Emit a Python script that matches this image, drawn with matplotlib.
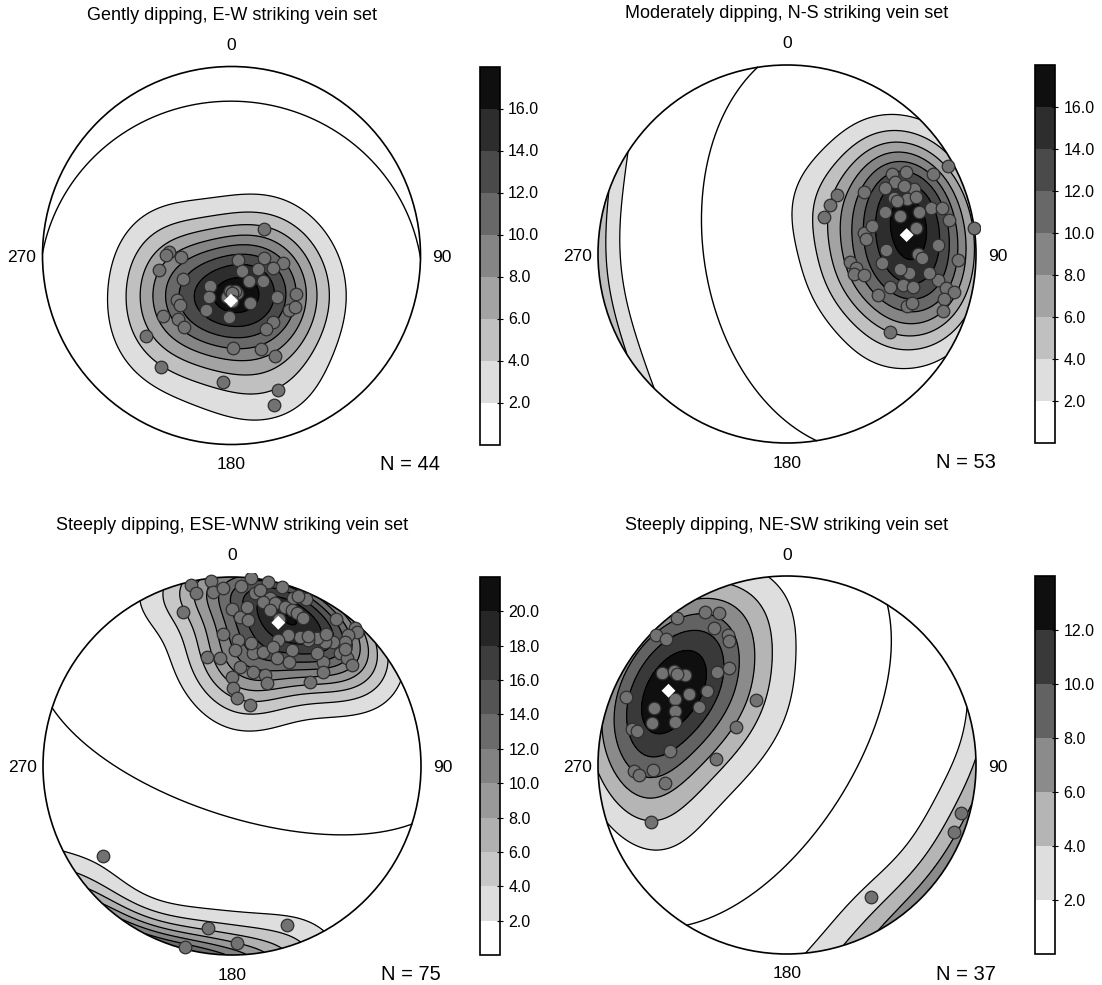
import numpy as np
import matplotlib
matplotlib.use("Agg")
import matplotlib.pyplot as plt
from matplotlib.patches import Circle

plt.rcParams['font.family'] = ['Liberation Sans', 'DejaVu Sans']

W, H = 1102, 985

titles = ['Gently dipping, E-W striking vein set',
          'Moderately dipping, N-S striking vein set',
          'Steeply dipping, ESE-WNW striking vein set',
          'Steeply dipping, NE-SW striking vein set']

# poles to veins (east, north; net radius = 1)
east1 = [0.172, -0.331, -0.348, -0.269, -0.382, -0.255, 0.033, 0.172, 0.271, 0.221,
         0.139, 0.057, 0.093, 0.168, -0.114, -0.121, -0.290, -0.272, 0.242, 0.341,
         0.098, -0.137, -0.015, -0.364, -0.281, -0.251, 0.306, 0.334, 0.221, 0.181,
         -0.452, 0.006, 0.156, 0.230, -0.373, -0.047, 0.244, 0.226, -0.025, -0.010,
         0.030, 0.020, 0.000, 0.000]
north1 = [0.139, 0.017, 0.003, -0.008, -0.077, -0.124, -0.024, -0.015, -0.041, -0.068,
          -0.073, -0.084, -0.135, -0.133, -0.161, -0.221, -0.235, -0.262, -0.218, -0.205,
          -0.253, -0.288, -0.327, -0.320, -0.338, -0.377, -0.288, -0.271, -0.350, -0.389,
          -0.426, -0.491, -0.496, -0.532, -0.588, -0.670, -0.712, -0.791, -0.218, -0.190,
          -0.200, -0.190, -0.200, -0.240]

east2 = [0.850, 0.774, 0.630, 0.557, 0.571, 0.519, 0.630, 0.674, 0.568, 0.633,
         0.409, 0.263, 0.228, 0.197, 0.762, 0.819, 0.859, 0.989, 0.683, 0.409,
         0.418, 0.524, 0.695, 0.716, 0.906, 0.333, 0.365, 0.354, 0.409, 0.647,
         0.545, 0.615, 0.668, 0.797, 0.841, 0.884, 0.480, 0.832, 0.637, 0.663,
         0.824, 0.545, 0.520, 0.600, 0.500, 0.580, 0.700, 0.750, 0.450, 0.680,
         0.620, 0.800, 0.600]
north2 = [0.466, 0.422, 0.432, 0.422, 0.383, 0.351, 0.356, 0.342, 0.295, 0.289,
          0.330, 0.312, 0.259, 0.197, 0.242, 0.242, 0.180, 0.136, 0.136, 0.110,
          0.079, 0.021, -0.002, -0.023, -0.032, -0.041, -0.072, -0.107, -0.111, -0.102,
          -0.173, -0.164, -0.173, -0.138, -0.181, -0.199, -0.217, -0.240, -0.275, -0.258,
          -0.300, -0.414, 0.220, 0.200, -0.050, 0.280, 0.220, -0.100, 0.150, 0.300,
          0.360, 0.050, -0.080]

east3 = [-0.219, -0.190, -0.113, -0.102, -0.049, 0.099, 0.189, 0.263, 0.122, 0.201,
         0.324, 0.390, -0.002, 0.042, 0.081, 0.086, 0.166, 0.228, 0.201, 0.280,
         0.316, 0.342, 0.374, -0.258, 0.651, 0.660, 0.615, 0.598, 0.536, 0.492,
         0.448, 0.404, 0.360, 0.298, 0.245, 0.571, 0.607, 0.633, 0.483, 0.483,
         0.413, 0.033, 0.016, 0.113, 0.166, 0.219, 0.316, 0.236, -0.134, -0.063,
         0.042, 0.113, -0.002, 0.175, 0.183, 0.007, 0.025, 0.095,
         -0.681, -0.125, 0.289, 0.025, -0.249,
         0.050, 0.150, 0.350, 0.550, 0.600, 0.450, 0.300, 0.100, -0.050, 0.250,
         0.400, 0.500]
north3 = [0.958, 0.914, 0.979, 0.922, 0.940, 0.993, 0.975, 0.949, 0.914, 0.887,
          0.887, 0.882, 0.829, 0.790, 0.840, 0.772, 0.869, 0.861, 0.825, 0.843,
          0.825, 0.808, 0.781, 0.816, 0.729, 0.711, 0.693, 0.658, 0.658, 0.658,
          0.676, 0.667, 0.684, 0.693, 0.667, 0.596, 0.570, 0.534, 0.552, 0.499,
          0.446, 0.667, 0.614, 0.596, 0.605, 0.631, 0.614, 0.570, 0.575, 0.570,
          0.526, 0.499, 0.473, 0.481, 0.437, 0.411, 0.358, 0.323,
          -0.476, -0.856, -0.841, -0.935, -0.956,
          0.950, 0.930, 0.900, 0.780, 0.620, 0.600, 0.550, 0.650, 0.700, 0.780,
          0.690, 0.700]

east4 = [-0.581, -0.433, -0.360, -0.387, -0.692, -0.642, -0.314, -0.305, -0.660, -0.539,
         -0.369, -0.305, -0.421, -0.520, -0.852, -0.590, -0.465, -0.166, -0.705, -0.594,
         -0.714, -0.594, -0.821, -0.793, -0.268, -0.618, -0.378, -0.812, -0.784, -0.710,
         -0.646, -0.720, 0.918, 0.881, 0.442, -0.600, -0.580]
north4 = [0.776, 0.811, 0.802, 0.723, 0.688, 0.667, 0.688, 0.658, 0.485, 0.476,
          0.494, 0.512, 0.393, 0.375, 0.361, 0.349, 0.309, 0.344, 0.300, 0.287,
          0.221, 0.226, 0.189, 0.182, 0.203, 0.074, 0.030, -0.030, -0.053, -0.026,
          -0.097, -0.303, -0.256, -0.353, -0.697, 0.500, 0.480]

# mean pole of each set (white diamond)
mean_east = [-0.003, 0.633, 0.245, -0.627]
mean_north = [-0.239, 0.100, 0.758, 0.393]

east = [east1, east2, east3, east4]
north = [north1, north2, north3, north4]

# layout in pixels: net centres and radius
centers = [(231.5, 255.5), (787, 254), (232, 766), (787, 765)]
R = 189


def to_xyz(e, n):
    """equal-area net position -> unit vector (east, north, down)"""
    e = np.asarray(e, float) * np.sqrt(2)
    n = np.asarray(n, float) * np.sqrt(2)
    r2 = np.minimum(e**2 + n**2, 2.0)
    s = np.sqrt(1 - r2 / 4)
    return np.stack([e * s, n * s, 1 - r2 / 2], axis=-1)


def to_net(v):
    x, y, z = v[..., 0], v[..., 1], v[..., 2]
    h = np.hypot(x, y)
    h = np.where(h == 0, 1, h)
    r = np.sqrt(np.clip(1 - z, 0, 1))
    return r * x / h, r * y / h


def kamb(e, n, ge, gn, sigma=3):
    """exponential Kamb density in standard deviations"""
    data = to_xyz(e, n)
    grid = to_xyz(ge.ravel(), gn.ravel())
    cos = np.abs(grid @ data.T)
    num = len(e)
    f = 2 * (1 + num / sigma**2)
    count = np.exp(f * (cos - 1)).sum(axis=1)
    units = np.sqrt(num * (f / 2 - 1) / f**2)
    return (count / units).reshape(ge.shape)


def great_circle(pe, pn):
    p = to_xyz([pe], [pn])[0]
    a = np.array([-p[1], p[0], 0.0])
    a = a / np.linalg.norm(a)
    b = np.cross(p, a)
    b = b / np.linalg.norm(b)
    if b[2] < 0:
        b = -b
    t = np.linspace(0, np.pi, 361)
    v = np.outer(np.cos(t), a) + np.outer(np.sin(t), b)
    return to_net(v)


def fxy(x, y):
    return x / W, 1 - y / H


fig = plt.figure(figsize=(W / 100, H / 100), dpi=100)

pad = 1.02
g = np.linspace(-pad, pad, 301)
ge, gn = np.meshgrid(g, g)
gr = np.hypot(ge, gn)
k = np.where(gr > 1, 1 / np.maximum(gr, 1e-9), 1)

for i in range(4):
    e = np.array(east[i])
    n = np.array(north[i])
    cx, cy = centers[i]

    ax = fig.add_axes([(cx - pad * R) / W, 1 - (cy + pad * R) / H,
                       2 * pad * R / W, 2 * pad * R / H])
    ax.set_xlim(-pad, pad)
    ax.set_ylim(-pad, pad)
    ax.axis('off')

    dens = kamb(e, n, ge * k, gn * k)
    dmax = dens.max()
    levels = np.append(np.arange(0, dmax, 2), dmax)
    nb = len(levels) - 1
    cols = ['white'] + [str(c) for c in np.linspace(0.87, 0.06, nb - 1)]

    clip = Circle((0, 0), 1, transform=ax.transData)
    cs = ax.contourf(ge, gn, dens, levels=levels, colors=cols)
    cs.set_clip_path(clip)
    cl = ax.contour(ge, gn, dens, levels=levels[1:-1], colors='black', linewidths=0.9)
    cl.set_clip_path(clip)

    gx, gy = great_circle(mean_east[i], mean_north[i])
    ax.plot(gx, gy, color='black', lw=1.0, zorder=4)
    ax.add_patch(Circle((0, 0), 1, fill=False, ec='black', lw=1.2, zorder=5))

    ax.scatter(e, n, s=82, c='#727272', edgecolors='#2e2e2e', linewidths=0.9, zorder=6)
    ax.scatter([mean_east[i]], [mean_north[i]], marker='D', s=50, c='white',
               edgecolors='none', zorder=7)

    # colourbar
    cax = fig.add_axes([(cx + 248) / W, 1 - (cy + R) / H, 20 / W, 2 * R / H])
    cb = fig.colorbar(cs, cax=cax, ticks=levels[1:-1])
    cb.ax.set_yticklabels([f'{t:.1f}' for t in levels[1:-1]])
    cb.ax.tick_params(labelsize=11.5, direction='inout', length=5, width=0.8)
    cb.outline.set_linewidth(1.2)

    # labels
    fig.text(*fxy(cx, cy - 240), titles[i], ha='center', va='center', fontsize=13)
    fig.text(*fxy(cx, cy - R - 21), '0', ha='center', va='center', fontsize=12.5)
    fig.text(*fxy(cx, cy + R + 20), '180', ha='center', va='center', fontsize=12.5)
    fig.text(*fxy(cx - R - 6, cy + 2), '270', ha='right', va='center', fontsize=12.5)
    fig.text(*fxy(cx + R + 12, cy + 2), '90', ha='left', va='center', fontsize=12.5)
    fig.text(*fxy(cx + 179, cy + R + 20), f'N = {len(e)}', ha='center', va='center',
             fontsize=14.5)

fig.savefig('out.png', dpi=100)
